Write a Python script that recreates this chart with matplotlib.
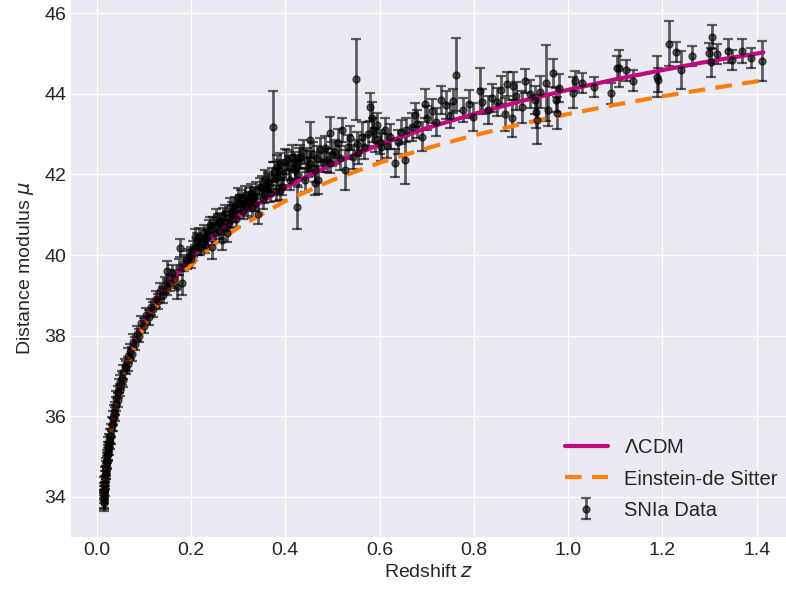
import numpy as np
import matplotlib.pyplot as plt

# ─── data ─────────────────────────────────────────────────────────────────
# SNIa points, split by redshift range
z_low = [0.015, 0.015, 0.015, 0.015, 0.0155, 0.016, 0.016, 0.017, 0.017, 0.018,
         0.018, 0.019, 0.019, 0.020, 0.020, 0.021, 0.022, 0.022, 0.023, 0.024,
         0.024, 0.025, 0.026, 0.026, 0.028, 0.028, 0.030, 0.030, 0.032, 0.034,
         0.034, 0.036, 0.038, 0.038, 0.040, 0.042, 0.045, 0.045, 0.048, 0.050,
         0.050, 0.053, 0.056, 0.056, 0.060, 0.063, 0.066, 0.066, 0.070, 0.074,
         0.078, 0.082, 0.086, 0.090, 0.095, 0.100]
mu_low = [33.85, 34.15, 33.95, 34.10, 33.90, 34.30, 34.00, 34.45, 34.20, 34.55,
          34.35, 34.60, 34.70, 34.80, 34.60, 34.90, 34.85, 35.00, 35.10, 35.05,
          35.20, 35.30, 35.20, 35.40, 35.50, 35.35, 35.65, 35.50, 35.80, 35.95,
          35.80, 36.10, 36.05, 36.20, 36.30, 36.45, 36.40, 36.60, 36.75, 36.85,
          36.65, 36.95, 37.10, 36.90, 37.25, 37.20, 37.50, 37.30, 37.60, 37.55,
          37.85, 37.80, 38.05, 38.00, 38.30, 38.25]
err_low = [0.20, 0.18, 0.22, 0.17, 0.20, 0.18, 0.16, 0.18, 0.17, 0.18,
           0.16, 0.17, 0.18, 0.17, 0.16, 0.18, 0.17, 0.16, 0.18, 0.17,
           0.16, 0.18, 0.17, 0.16, 0.18, 0.17, 0.16, 0.18, 0.17, 0.18,
           0.16, 0.17, 0.18, 0.16, 0.17, 0.18, 0.17, 0.16, 0.18, 0.17,
           0.16, 0.18, 0.17, 0.18, 0.17, 0.16, 0.18, 0.17, 0.18, 0.17,
           0.18, 0.17, 0.18, 0.17, 0.18, 0.18]

z_mid = [0.105, 0.110, 0.115, 0.120, 0.125, 0.130, 0.135, 0.140, 0.145, 0.150,
         0.150, 0.155, 0.160, 0.165, 0.170, 0.175, 0.177, 0.180, 0.185, 0.191,
         0.195, 0.200, 0.200, 0.208, 0.215, 0.220, 0.225, 0.230, 0.230, 0.240,
         0.244, 0.250, 0.254, 0.260, 0.265, 0.270, 0.276, 0.280, 0.283, 0.283,
         0.290, 0.295]
mu_mid = [38.50, 38.45, 38.70, 38.65, 38.90, 38.85, 39.10, 39.00, 39.25, 39.60,
          39.20, 39.30, 39.55, 39.40, 39.20, 39.70, 40.17, 39.30, 39.80, 39.88,
          39.95, 40.00, 39.90, 40.45, 40.21, 40.20, 40.30, 40.40, 40.25, 40.74,
          40.21, 40.55, 40.95, 40.60, 40.37, 40.70, 40.54, 40.80, 41.20, 40.87,
          41.03, 40.90]
err_mid = [0.18, 0.18, 0.20, 0.18, 0.20, 0.18, 0.20, 0.20, 0.20, 0.25,
           0.20, 0.20, 0.20, 0.22, 0.30, 0.20, 0.22, 0.30, 0.20, 0.22,
           0.20, 0.20, 0.22, 0.20, 0.22, 0.20, 0.20, 0.22, 0.20, 0.20,
           0.30, 0.22, 0.20, 0.20, 0.25, 0.20, 0.22, 0.20, 0.22, 0.20,
           0.22, 0.20]

z_far = [0.300, 0.304, 0.310, 0.315, 0.322, 0.325, 0.329, 0.335, 0.343, 0.346,
         0.350, 0.355, 0.364, 0.364, 0.368, 0.373, 0.380, 0.382, 0.382, 0.389,
         0.389, 0.392, 0.399, 0.403, 0.410, 0.414, 0.421, 0.421, 0.424, 0.430,
         0.431, 0.442, 0.449, 0.452, 0.452, 0.463, 0.463, 0.470, 0.474, 0.480,
         0.488, 0.495, 0.495, 0.500, 0.512, 0.520, 0.527, 0.534, 0.544, 0.549,
         0.555, 0.562, 0.566, 0.580, 0.583, 0.587, 0.594]
mu_far = [41.45, 41.28, 41.10, 41.49, 41.36, 41.45, 41.16, 41.30, 41.03, 41.70,
          41.70, 41.50, 41.82, 41.78, 41.53, 43.18, 41.60, 42.19, 41.94, 41.61,
          42.27, 41.70, 42.32, 42.36, 41.86, 42.44, 42.19, 42.11, 41.20, 42.40,
          42.44, 41.86, 42.19, 42.85, 42.27, 42.11, 41.78, 41.86, 42.60, 42.30,
          42.36, 43.02, 42.28, 42.50, 42.77, 43.10, 42.11, 42.69, 42.44, 44.36,
          42.55, 42.94, 42.69, 43.68, 43.39, 43.10, 43.23]
err_far = [0.22, 0.20, 0.20, 0.22, 0.20, 0.22, 0.25, 0.22, 0.25, 0.22,
           0.25, 0.22, 0.25, 0.22, 0.22, 0.88, 0.25, 0.30, 0.22, 0.25,
           0.25, 0.22, 0.30, 0.25, 0.25, 0.30, 0.30, 0.25, 0.55, 0.25,
           0.30, 0.30, 0.25, 0.45, 0.30, 0.30, 0.30, 0.35, 0.30, 0.25,
           0.30, 0.40, 0.25, 0.30, 0.35, 0.30, 0.50, 0.30, 0.30, 1.00,
           0.30, 0.35, 0.30, 0.35, 0.40, 0.30, 0.30]

# extra points filling the dense band between z = 0.2 and 0.95
z_band = [0.205, 0.212, 0.218, 0.228, 0.235, 0.238, 0.247, 0.257, 0.262, 0.268,
          0.273, 0.286, 0.293, 0.298, 0.307, 0.312, 0.318, 0.327, 0.333, 0.338,
          0.352, 0.358, 0.361, 0.371, 0.377, 0.386, 0.395, 0.407, 0.418, 0.427,
          0.437, 0.445, 0.458, 0.468, 0.485, 0.505, 0.515, 0.538, 0.552, 0.575,
          0.590, 0.615, 0.645, 0.680, 0.700, 0.720, 0.730, 0.750, 0.790, 0.830,
          0.850, 0.890, 0.920, 0.940]
mu_band = [40.15, 40.35, 40.45, 40.55, 40.45, 40.65, 40.75, 40.80, 40.85, 40.95,
           41.05, 41.10, 41.25, 41.15, 41.40, 41.30, 41.20, 41.55, 41.45, 41.60,
           41.40, 41.85, 41.65, 41.90, 42.05, 42.10, 42.00, 42.15, 42.30, 42.00,
           42.55, 42.35, 42.50, 42.40, 42.65, 42.55, 42.40, 42.90, 42.75, 43.00,
           42.85, 42.70, 43.05, 43.25, 43.40, 43.30, 43.85, 43.45, 43.75, 43.60,
           43.80, 43.95, 44.00, 44.05]
err_band = [0.20, 0.20, 0.22, 0.20, 0.20, 0.22, 0.20, 0.22, 0.20, 0.22,
            0.20, 0.22, 0.20, 0.22, 0.22, 0.20, 0.22, 0.22, 0.25, 0.22,
            0.25, 0.25, 0.22, 0.25, 0.25, 0.25, 0.25, 0.30, 0.25, 0.30,
            0.30, 0.30, 0.30, 0.30, 0.30, 0.30, 0.30, 0.30, 0.30, 0.30,
            0.30, 0.30, 0.30, 0.35, 0.30, 0.35, 0.35, 0.30, 0.35, 0.35,
            0.35, 0.35, 0.35, 0.40]

z_deep = [0.600, 0.604, 0.611, 0.622, 0.633, 0.640, 0.654, 0.657, 0.668, 0.675,
          0.689, 0.696, 0.712, 0.740, 0.756, 0.762, 0.776, 0.799, 0.813, 0.817,
          0.838, 0.857, 0.867, 0.870, 0.880, 0.884, 0.903, 0.908, 0.930, 0.932,
          0.933, 0.953, 0.958, 0.968, 0.974, 0.977, 0.980]
mu_deep = [42.80, 42.69, 43.10, 42.94, 42.28, 42.81, 42.36, 43.10, 43.18, 43.48,
           42.94, 43.76, 43.58, 43.72, 43.82, 44.48, 43.60, 43.43, 44.08, 43.81,
           43.89, 44.10, 43.49, 44.24, 43.39, 44.20, 43.67, 44.32, 43.85, 43.56,
           43.35, 44.27, 43.60, 44.51, 43.85, 43.52, 44.14]
err_deep = [0.30, 0.35, 0.30, 0.30, 0.35, 0.30, 0.60, 0.30, 0.35, 0.30,
            0.35, 0.35, 0.30, 0.35, 0.30, 0.90, 0.30, 0.35, 0.55, 0.30,
            0.35, 0.35, 0.40, 0.30, 0.45, 0.35, 0.40, 0.30, 0.35, 0.40,
            0.60, 0.95, 0.40, 0.35, 0.30, 0.40, 0.35]

z_high = [1.010, 1.014, 1.029, 1.055, 1.091, 1.103, 1.108, 1.123, 1.138, 1.188,
          1.190, 1.214, 1.228, 1.239, 1.263, 1.299, 1.303, 1.306, 1.315, 1.340,
          1.348, 1.369, 1.388, 1.412]
mu_high = [44.03, 44.32, 44.28, 44.16, 44.01, 44.65, 44.63, 44.58, 44.33, 44.43,
           44.35, 45.25, 45.03, 44.59, 44.94, 45.02, 44.78, 45.42, 44.99, 45.07,
           44.84, 45.06, 44.89, 44.82]
err_high = [0.38, 0.25, 0.25, 0.25, 0.25, 0.30, 0.45, 0.25, 0.25, 0.50,
            0.30, 0.55, 0.25, 0.47, 0.25, 0.25, 0.35, 0.30, 0.25, 0.30,
            0.25, 0.30, 0.25, 0.50]

# model curves
z_model = [0.015, 0.02, 0.025, 0.03, 0.04, 0.05, 0.06, 0.07, 0.085, 0.1,
           0.12, 0.15, 0.2, 0.25, 0.3, 0.4, 0.5, 0.6, 0.7, 0.8,
           0.9, 1.0, 1.1, 1.2, 1.3, 1.4, 1.414]
mu_lcdm = [34.06, 34.70, 35.19, 35.59, 36.24, 36.74, 37.15, 37.50, 37.94, 38.31,
           38.74, 39.27, 39.96, 40.50, 40.96, 41.68, 42.26, 42.74, 43.15, 43.50,
           43.82, 44.10, 44.36, 44.59, 44.81, 45.00, 45.03]
mu_eds = [34.05, 34.68, 35.16, 35.56, 36.19, 36.68, 37.08, 37.42, 37.85, 38.21,
          38.62, 39.11, 39.76, 40.27, 40.68, 41.34, 41.86, 42.29, 42.65, 42.97,
          43.25, 43.50, 43.73, 43.94, 44.13, 44.31, 44.34]

sn_z = np.concatenate([z_low, z_mid, z_far, z_band, z_deep, z_high])
sn_mu = np.concatenate([mu_low, mu_mid, mu_far, mu_band, mu_deep, mu_high])
sn_err = np.concatenate([err_low, err_mid, err_far, err_band, err_deep, err_high])

# ─── plot ─────────────────────────────────────────────────────────────────
plt.style.use('seaborn-v0_8-darkgrid')
plt.rcParams['font.family'] = ['Liberation Sans', 'DejaVu Sans']

fig = plt.figure(figsize=(7.86, 5.96), dpi=100)
ax = fig.add_axes([71 / 786, 59 / 596, 715 / 786, 537 / 596])

ax.errorbar(sn_z, sn_mu, yerr=sn_err, fmt='o', color='black', ms=5,
            elinewidth=2, capsize=3.5, capthick=1.6, alpha=0.6, label='SNIa Data')
ax.plot(z_model, mu_lcdm, color='#c0087f', lw=3, label=r'$\Lambda$CDM')
ax.plot(z_model, mu_eds, color='#ff7f0e', lw=3, ls=(0, (4, 2.5)), label='Einstein-de Sitter')

ax.set_xlim(-0.0545, 1.462)
ax.set_ylim(33.0, 46.33)
ax.set_xticks(np.arange(0, 1.41, 0.2))
ax.set_yticks(np.arange(34, 47, 2))
ax.tick_params(labelsize=14)
ax.set_xlabel('Redshift $z$', fontsize=14)
ax.set_ylabel(r'Distance modulus $\mu$', fontsize=14, labelpad=6)
ax.legend(loc='lower right', bbox_to_anchor=(1.006, 0.008), fontsize=14.5,
          labelspacing=0.6, handlelength=2.1, borderaxespad=0.25)

plt.savefig('out.png', dpi=100)
